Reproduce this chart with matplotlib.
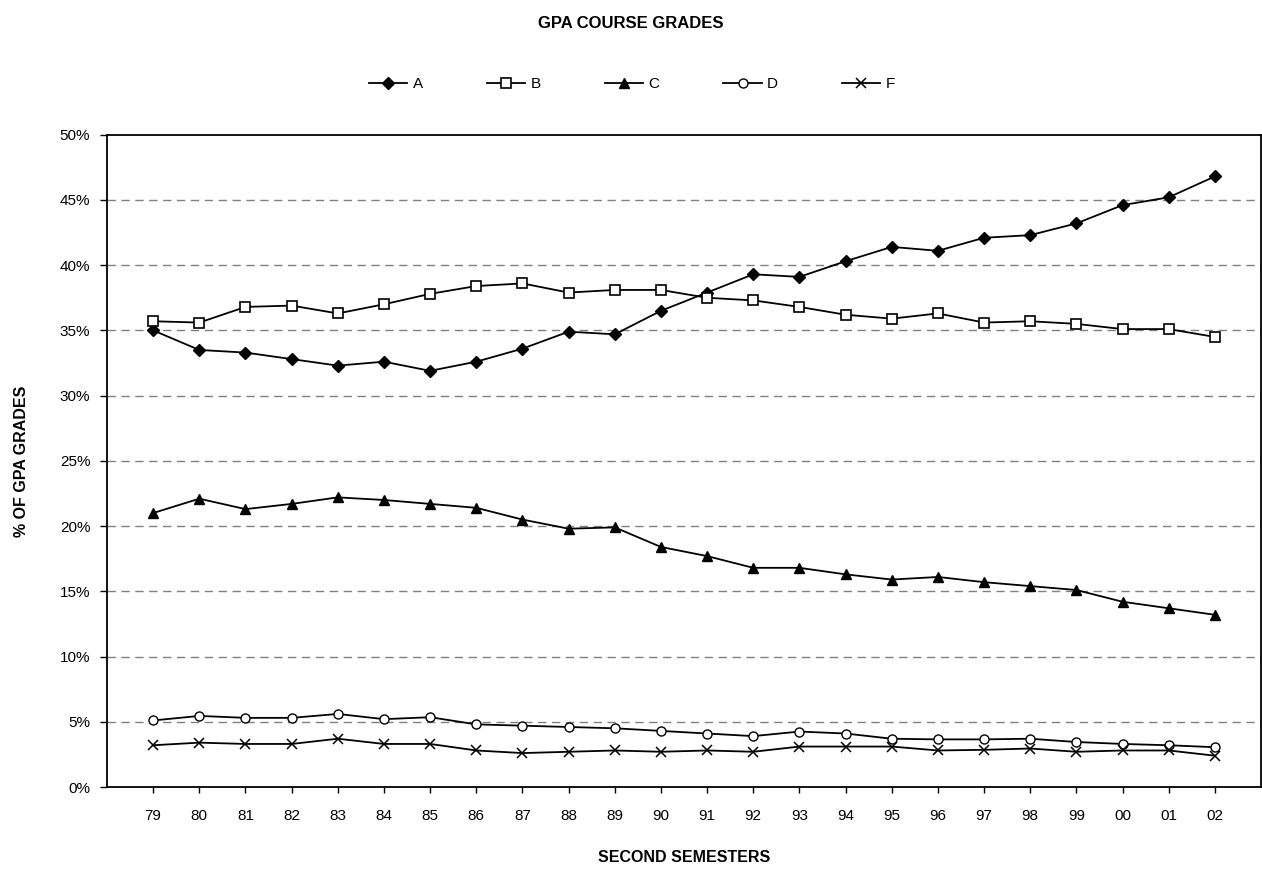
import matplotlib
matplotlib.use("Agg")
import matplotlib.pyplot as plt
from matplotlib.ticker import MultipleLocator, PercentFormatter

plt.rcParams['font.family'] = ['Liberation Sans', 'DejaVu Sans']

years = ["79", "80", "81", "82", "83", "84", "85", "86", "87", "88", "89", "90",
         "91", "92", "93", "94", "95", "96", "97", "98", "99", "00", "01", "02"]

grade_a = [35.0, 33.5, 33.3, 32.8, 32.3, 32.6, 31.9, 32.6, 33.6, 34.9, 34.7, 36.5,
           37.9, 39.3, 39.1, 40.3, 41.4, 41.1, 42.1, 42.3, 43.2, 44.6, 45.2, 46.8]
grade_b = [35.7, 35.6, 36.8, 36.9, 36.3, 37.0, 37.8, 38.4, 38.6, 37.9, 38.1, 38.1,
           37.5, 37.3, 36.8, 36.2, 35.9, 36.3, 35.6, 35.7, 35.5, 35.1, 35.1, 34.5]
grade_c = [21.0, 22.1, 21.3, 21.7, 22.2, 22.0, 21.7, 21.4, 20.5, 19.8, 19.9, 18.4,
           17.7, 16.8, 16.8, 16.3, 15.9, 16.1, 15.7, 15.4, 15.1, 14.2, 13.7, 13.2]
grade_d = [5.1, 5.45, 5.3, 5.3, 5.6, 5.2, 5.35, 4.8, 4.7, 4.6, 4.5, 4.3,
           4.1, 3.9, 4.25, 4.1, 3.7, 3.65, 3.65, 3.7, 3.45, 3.3, 3.2, 3.05]
grade_f = [3.2, 3.4, 3.3, 3.3, 3.7, 3.3, 3.3, 2.8, 2.6, 2.7, 2.8, 2.7,
           2.8, 2.7, 3.1, 3.1, 3.1, 2.8, 2.85, 2.95, 2.7, 2.8, 2.8, 2.4]

series = [
    ("A", grade_a, dict(marker="D", ms=6.5, mfc="black", mec="black")),
    ("B", grade_b, dict(marker="s", ms=7, mfc="white", mec="black", mew=1.2)),
    ("C", grade_c, dict(marker="^", ms=7.5, mfc="black", mec="black")),
    ("D", grade_d, dict(marker="o", ms=6.5, mfc="white", mec="black", mew=1.0)),
    ("F", grade_f, dict(marker="x", ms=6.5, mfc="black", mec="black", mew=1.1)),
]

W, H = 1262, 871
fig = plt.figure(figsize=(W / 100, H / 100), dpi=100)
ax = fig.add_axes([107 / W, (H - 787) / H, (1261 - 107) / W, (787 - 134.7) / H])

x = list(range(len(years)))
for name, vals, style in series:
    ax.plot(x, vals, color="black", lw=1.3, label=name, zorder=3, **style)

ax.set_xlim(-1, len(years))
ax.set_ylim(0, 50)
ax.set_xticks(x)
ax.set_xticklabels(years)
ax.yaxis.set_major_locator(MultipleLocator(5))
ax.yaxis.set_major_formatter(PercentFormatter(decimals=0))

for v in range(5, 50, 5):
    ax.axhline(v, color="#808080", lw=1.0, ls=(0, (6, 4)), zorder=1)

for s in ax.spines.values():
    s.set_color("black")
    s.set_linewidth(1.3)

ax.tick_params(axis="x", direction="out", length=4, width=1, pad=12, labelsize=11)
ax.tick_params(axis="y", direction="out", length=5, width=1, pad=7, labelsize=11)

ax.set_xlabel("SECOND SEMESTERS", fontsize=11.5, fontweight="bold")
ax.xaxis.label.set_va("center")
ax.xaxis.set_label_coords(0.5, (787 - 857) / (787 - 134.7))
ax.set_ylabel("% OF GPA GRADES", fontsize=11.5, fontweight="bold")
ax.yaxis.label.set_va("center")
ax.yaxis.set_label_coords((22 - 107) / (1261 - 107), 0.5)

fig.text(631 / W, 1 - 23 / H, "GPA COURSE GRADES", ha="center", va="center",
         fontsize=12, fontweight="bold")

fig.legend(loc="center", bbox_to_anchor=(632 / W, 1 - 84 / H), ncol=5, frameon=False,
           fontsize=11, handlelength=2.5, handletextpad=0.35, columnspacing=4.2)

fig.savefig("out.png", dpi=100)
